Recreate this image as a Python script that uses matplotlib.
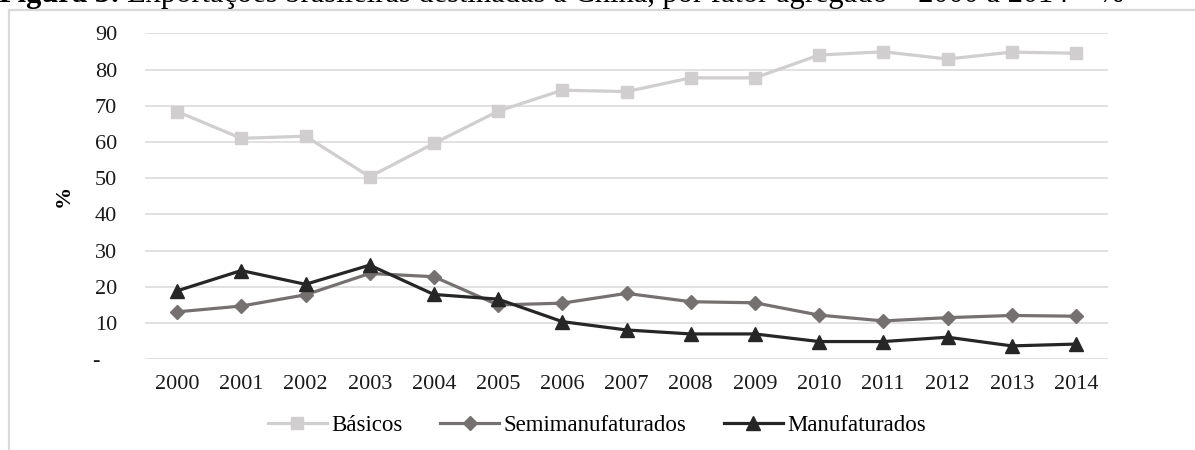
import matplotlib
matplotlib.use('Agg')
import matplotlib.pyplot as plt
from matplotlib.patches import Rectangle

plt.rcParams['font.family'] = ['Liberation Serif', 'DejaVu Serif']

anos = ['2000', '2001', '2002', '2003', '2004', '2005', '2006', '2007',
        '2008', '2009', '2010', '2011', '2012', '2013', '2014']
basicos = [68.4, 61.0, 61.6, 50.4, 59.6, 68.5, 74.3, 73.9,
           77.7, 77.7, 84.0, 84.9, 82.9, 84.8, 84.5]
semimanufaturados = [13.1, 14.7, 17.8, 23.7, 22.8, 15.0, 15.5, 18.2,
                     15.9, 15.6, 12.2, 10.6, 11.5, 12.1, 11.9]
manufaturados = [18.9, 24.5, 20.7, 26.0, 17.9, 16.6, 10.4, 8.1,
                 7.0, 7.0, 4.9, 4.9, 6.1, 3.7, 4.2]
yticks = [0, 10, 20, 30, 40, 50, 60, 70, 80, 90]
ylabels = ['-   ', '10', '20', '30', '40', '50', '60', '70', '80', '90']

W, H = 1195, 450
fig = plt.figure(figsize=(W / 100, H / 100), dpi=100)

# light frame around the chart area
fig.patches.append(Rectangle((9 / W, -0.1), 1.2, 1 - 10 / H + 0.1,
                             transform=fig.transFigure, fill=False,
                             edgecolor='#d9d9d9', linewidth=1.6))

ax = fig.add_axes([145 / W, 1 - 359.3 / H, (1108 - 145) / W, (359.3 - 33.3) / H])
x = list(range(len(anos)))

ax.plot(x, basicos, color='#d0cece', linewidth=2.3, marker='s',
        markersize=8.5, label='Básicos', zorder=3)
ax.plot(x, semimanufaturados, color='#767171', linewidth=2.3, marker='D',
        markersize=7.5, label='Semimanufaturados', zorder=4)
ax.plot(x, manufaturados, color='#262626', linewidth=2.3, marker='^',
        markersize=10, label='Manufaturados', zorder=5)

ax.set_xlim(-0.5, len(anos) - 0.5)
ax.set_ylim(0, 90)
ax.set_xticks(x, anos)
ax.set_yticks(yticks, ylabels)
ax.grid(axis='y', color='#d9d9d9', linewidth=1.1)
ax.set_axisbelow(True)
for s in ax.spines.values():
    s.set_visible(False)
ax.tick_params(axis='both', length=0, labelsize=16, colors='#1a1a1a')
ax.tick_params(axis='x', pad=11)
ax.tick_params(axis='y', pad=20)
ax.set_ylabel('%', fontsize=16, fontweight='bold', labelpad=14)

fig.legend(loc='center', bbox_to_anchor=(597 / W, 1 - 425 / H), ncol=3,
           frameon=False, fontsize=16.5, handlelength=2.6, handletextpad=0.2,
           columnspacing=1.6)

# caption sits partly above the top edge
base_y = 1 - 2 / H
t1 = fig.text(-0.001, base_y, 'Figura 3:', fontsize=22,
              fontweight='bold', va='baseline', ha='left')
fig.canvas.draw()
bb = t1.get_window_extent()
fig.text(bb.x1 / W + 7 / W, base_y,
         'Exportações brasileiras destinadas à China, por fator agregado – 2000 a 2014 – %',
         fontsize=22, va='baseline', ha='left')

fig.savefig('out.png', dpi=100)
